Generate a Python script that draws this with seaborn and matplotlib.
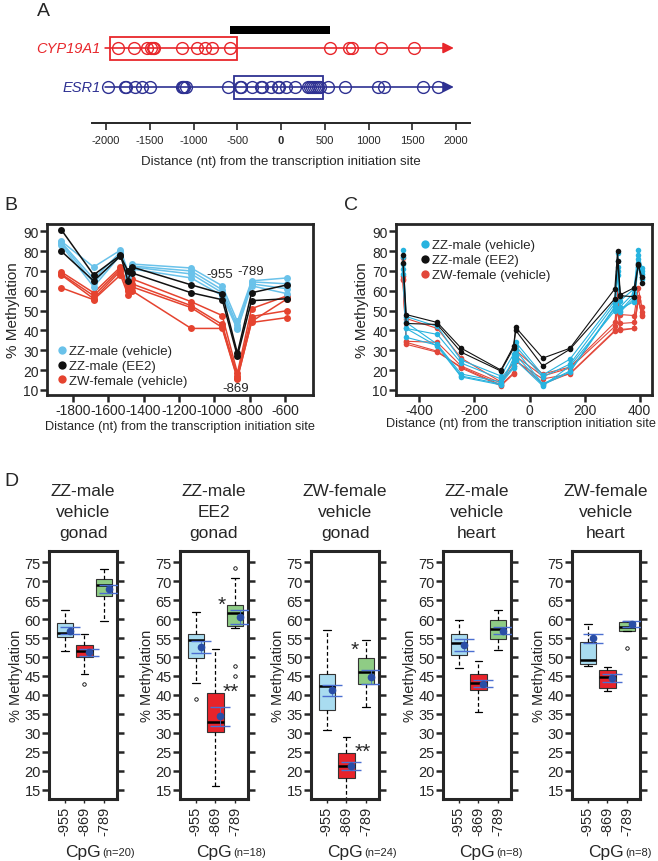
import matplotlib
matplotlib.use("Agg")
import matplotlib.pyplot as plt
from matplotlib.lines import Line2D
from matplotlib.patches import Rectangle
import seaborn as sns
import pandas as pd
import numpy as np

W, H = 658, 862

sns.set_style("ticks")
plt.rcParams["font.family"] = ["Liberation Sans", "DejaVu Sans"]
plt.rcParams["axes.unicode_minus"] = False

# ---- panel A: CpG sites, nt from the transcription initiation site
cyp_sites = [-1866, -1683, -1531, -1489, -1466, -1451, -1131, -955, -869, -789, -586,
             563, 781, 811, 1143, 1523]
esr_sites = [-1974, -1783, -1771, -1669, -1585, -1497, -1135, -1120, -1105, -1089,
             -602, -469, -454, -328, -229, -214, -114, -38, -19, 57, 160,
             309, 330, 354, 376, 400, 423, 446, 541, 735, 1105, 1181, 1619, 1791]
cyp_region = (-1955, -503)
esr_region = (-533, 483)
probe_bar = (-580, 560)
a_ticks = [-2000, -1500, -1000, -500, 0, 500, 1000, 1500, 2000]

# ---- panel B: CYP19A1 methylation per CpG, one list per animal
b_pos = [-1866, -1683, -1531, -1489, -1466, -1131, -955, -869, -789, -586]
b_zz_vehicle = [
    [85.0, 72.0, 80.5, 70.0, 73.5, 71.5, 62.5, 44.5, 65.0, 66.5],
    [84.5, 66.0, 79.5, 69.0, 72.5, 70.0, 60.5, 42.5, 64.5, 63.5],
    [84.0, 64.0, 78.5, 68.0, 72.0, 68.5, 59.0, 41.0, 63.5, 61.0],
    [83.0, 62.0, 78.0, 67.0, 71.0, 66.5, 57.5, 40.5, 62.5, 58.5],
]
b_zz_ee2 = [
    [90.8, 68.0, 78.0, 65.0, 72.0, 63.0, 58.5, 28.5, 59.0, 63.0],
    [80.0, 65.0, 77.5, 70.0, 69.0, 59.0, 55.5, 27.0, 55.0, 56.0],
]
b_zw_vehicle = [
    [69.5, 59.0, 72.0, 63.0, 66.0, 54.5, 47.5, 18.5, 51.0, 57.5],
    [68.5, 57.5, 71.0, 61.0, 63.5, 52.5, 43.0, 17.0, 47.0, 50.0],
    [68.0, 56.0, 70.0, 60.0, 62.0, 51.5, 41.5, 16.0, 44.0, 46.5],
    [61.5, 55.5, 68.0, 58.0, 60.0, 41.0, 41.0, 15.5, 44.5, 56.0],
]

# ---- panel C: ESR1 methylation per CpG
c_pos = [-460, -448, -335, -248, -104, -58, -50, 48, 147, 310, 320, 330, 380, 395, 408]
c_zz_vehicle = [
    [80.5, 47.0, 42.0, 25.0, 17.0, 28.0, 34.0, 17.5, 25.5, 55.0, 79.0, 55.0, 61.0, 80.5, 71.5],
    [77.0, 41.0, 38.0, 23.5, 15.5, 24.0, 32.0, 16.5, 23.0, 53.5, 75.0, 52.0, 59.0, 78.0, 70.0],
    [73.5, 44.0, 33.0, 18.0, 14.0, 22.0, 30.0, 13.0, 19.5, 52.0, 72.0, 50.0, 57.5, 76.0, 68.5],
    [71.0, 36.5, 32.5, 17.0, 13.0, 21.0, 27.5, 12.5, 19.0, 51.5, 70.0, 49.5, 56.0, 74.0, 67.0],
    [68.5, 41.0, 32.0, 16.5, 12.5, 26.0, 25.0, 12.0, 22.0, 50.0, 68.0, 51.0, 54.5, 72.0, 66.0],
]
c_zz_ee2 = [
    [78.0, 48.0, 44.0, 31.0, 20.0, 32.0, 41.5, 26.0, 31.0, 61.0, 80.0, 58.0, 61.5, 73.0, 67.0],
    [74.0, 43.5, 43.0, 29.0, 19.5, 31.0, 40.0, 22.0, 30.5, 56.0, 75.0, 57.5, 57.0, 73.5, 64.0],
]
c_zw_vehicle = [
    [76.5, 46.0, 41.0, 26.0, 14.0, 24.0, 30.0, 18.0, 21.5, 44.0, 59.0, 48.0, 47.5, 61.5, 52.0],
    [67.5, 34.5, 34.0, 22.0, 13.5, 22.0, 27.0, 17.0, 21.0, 42.0, 56.0, 43.5, 44.0, 57.0, 49.5],
    [66.0, 33.0, 29.0, 21.5, 12.5, 18.5, 24.5, 15.5, 18.0, 39.5, 52.0, 40.0, 41.0, 55.0, 48.0],
    [65.5, 34.0, 29.5, 21.0, 12.0, 18.0, 25.0, 13.0, 18.3, 40.0, 50.0, 40.5, 41.0, 55.5, 47.5],
]
group_labels = ["ZZ-male (vehicle)", "ZZ-male (EE2)", "ZW-female (vehicle)"]

# ---- panel D: box summaries for CpG -955, -869, -789
d_titles = ["ZZ-male\nvehicle\ngonad", "ZZ-male\nEE2\ngonad", "ZW-female\nvehicle\ngonad",
            "ZZ-male\nvehicle\nheart", "ZW-female\nvehicle\nheart"]
d_n = [20, 18, 24, 8, 8]
cpg_labels = ["-955", "-869", "-789"]
box_q1 = [[55.3, 50.1, 66.2], [49.8, 30.1, 58.2], [36.1, 18.1, 43.0], [50.5, 41.3, 54.8], [48.1, 41.7, 56.8]]
box_med = [[56.3, 51.6, 69.0], [54.6, 32.9, 61.7], [42.4, 21.1, 46.1], [53.6, 43.2, 57.5], [49.2, 44.8, 58.0]]
box_q3 = [[59.0, 53.3, 70.7], [56.0, 40.6, 63.7], [45.4, 24.6, 49.8], [56.0, 45.6, 59.9], [54.0, 46.5, 59.3]]
whis_lo = [[51.6, 45.6, 59.6], [43.2, 16.0, 57.7], [30.8, 12.6, 36.9], [47.2, 35.4, 51.8], [47.5, 40.9, 56.8]]
whis_hi = [[62.4, 56.0, 73.3], [62.0, 52.0, 70.9], [57.1, 28.8, 54.6], [59.7, 49.0, 62.4], [58.6, 47.4, 59.5]]
fliers = [[[], [43.0], []], [[39.0], [], [73.5, 47.6, 45.0]], [[], [], []],
          [[], [], []], [[], [], [52.5]]]
means = [[57.0, 51.2, 68.0], [52.6, 34.3, 60.5], [41.2, 21.2, 44.7], [53.2, 43.0, 57.0], [55.0, 44.5, 58.7]]
ses = [[0.9, 0.9, 1.0], [1.5, 2.4, 1.8], [1.4, 1.0, 1.9], [1.5, 1.0, 1.0], [1.2, 1.0, 0.7]]
stars = [[], [("*", 1.3, 64.0), ("**", 1.75, 41.0)], [("*", 1.4, 52.0), ("**", 1.85, 25.0)], [], []]
box_colors = ["#a9dcf0", "#e8232a", "#8fcc85"]

RED_A, BLUE_A = "#e8262b", "#2e3192"
B_COLORS = ["#6ac2ea", "#111111", "#e5432f"]
C_COLORS = ["#27b3df", "#111111", "#e2473a"]
XLABEL = "Distance (nt) from the transcription initiation site"


def rect(l, t, r, b):
    return [l / W, 1 - b / H, (r - l) / W, (b - t) / H]


fig = plt.figure(figsize=(W / 100, H / 100), dpi=100)

# ================= A
axA = fig.add_axes(rect(92, 0, 470, 124))
axA.set_xlim(-2160, 2160)
axA.set_ylim(124, 0)
for s in ["top", "left", "right"]:
    axA.spines[s].set_visible(False)
axA.spines["bottom"].set_linewidth(1.4)
axA.set_yticks([])
axA.set_xticks(a_ticks)
axA.set_xticklabels([str(t) for t in a_ticks], fontsize=8)
for lab in axA.get_xticklabels():
    if lab.get_text() == "0":
        lab.set_fontweight("bold")
axA.tick_params(axis="x", direction="out", length=5, width=1.2, pad=4)
axA.set_xlabel(XLABEL, fontsize=9.5, labelpad=7)
axA.patch.set_alpha(0)

axA.add_patch(Rectangle((probe_bar[0], 27), probe_bar[1] - probe_bar[0], 8, color="black", lw=0))
for sites, yrow, col, reg, rh, name in [(cyp_sites, 49, RED_A, cyp_region, 23, "CYP19A1"),
                                         (esr_sites, 88, BLUE_A, esr_region, 23, "ESR1")]:
    axA.annotate("", xy=(1975, yrow), xytext=(-2010, yrow),
                 arrowprops=dict(arrowstyle="-|>", color=col, lw=1.2, mutation_scale=16,
                                 shrinkA=0, shrinkB=0))
    axA.plot(sites, [yrow] * len(sites), "o", mfc="none", mec=col, ms=8.5, mew=1.0)
    axA.add_patch(Rectangle((reg[0], yrow - rh / 2), reg[1] - reg[0], rh, fill=False,
                            ec=col, lw=1.3))
    axA.text(-2060, yrow, name, color=col, fontsize=10.5, style="italic", ha="right", va="center")

fig.text(37 / W, 1 - 11 / H, "A", fontsize=14, va="center", ha="left")
fig.text(4 / W, 1 - 206 / H, "B", fontsize=14, va="center", ha="left")
fig.text(344 / W, 1 - 206 / H, "C", fontsize=14, va="center", ha="left")
fig.text(4 / W, 1 - 482 / H, "D", fontsize=14, va="center", ha="left")


def long_frame(pos, groups):
    rows = []
    for g, samples in groups:
        for i, vals in enumerate(samples):
            for p, v in zip(pos, vals):
                rows.append({"pos": p, "val": v, "group": g, "sample": f"{g}-{i}"})
    return pd.DataFrame(rows)


def methyl_panel(ax, pos, groups, colors, ms, lw):
    df = long_frame(pos, groups)
    for g, c in [(group_labels[2], colors[2]), (group_labels[0], colors[0]),
                 (group_labels[1], colors[1])]:
        sns.lineplot(data=df[df["group"] == g], x="pos", y="val", units="sample",
                     estimator=None, color=c, marker="o", markersize=ms,
                     markeredgewidth=0, linewidth=lw, legend=False, ax=ax)
    ax.set_ylim(7.4, 93.7)
    ax.set_yticks(range(10, 91, 10))
    ax.set_ylabel("% Methylation", fontsize=11, labelpad=2)
    ax.set_xlabel(XLABEL, fontsize=9.2, labelpad=2)
    for s in ax.spines.values():
        s.set_linewidth(2.0)
    ax.tick_params(direction="out", length=5, width=1.8, labelsize=10, pad=1)
    handles = [Line2D([], [], marker="o", ls="none", color=c, ms=6, mew=0) for c in colors]
    return handles


axB = fig.add_axes(rect(47, 225, 313, 396))
hB = methyl_panel(axB, b_pos, [(group_labels[0], b_zz_vehicle), (group_labels[1], b_zz_ee2),
                               (group_labels[2], b_zw_vehicle)], B_COLORS, 5, 1.1)
axB.set_xlim(-1947, -441)
axB.set_xticks(range(-1800, -599, 200))
axB.legend(hB, group_labels, loc="lower left", frameon=False, fontsize=9.5, handletextpad=0.1,
           labelspacing=0.2, borderaxespad=0.3, borderpad=0.3, handlelength=1.0)
axB.text(-971, 68.4, "-955", fontsize=9.5, ha="center", va="center")
axB.text(-795, 70.1, "-789", fontsize=9.5, ha="center", va="center")
axB.text(-880, 11.0, "-869", fontsize=9.5, ha="center", va="center")

axC = fig.add_axes(rect(396, 225, 652, 396))
hC = methyl_panel(axC, c_pos, [(group_labels[0], c_zz_vehicle), (group_labels[1], c_zz_ee2),
                               (group_labels[2], c_zw_vehicle)], C_COLORS, 4, 0.8)
axC.set_xlim(-485, 445)
axC.set_xticks(range(-400, 401, 200))
# keep the long x label inside the figure, as in the reference
axC.xaxis.set_label_coords((521 - 396) / 256, -0.13)
axC.legend(hC, group_labels, loc="upper left", frameon=False, fontsize=9.5, handletextpad=0.1,
           labelspacing=0.2, borderaxespad=0.3, borderpad=0.2, handlelength=1.0,
           bbox_to_anchor=(0.06, 0.95))

# ================= D
d_lefts = [49, 180, 311, 443, 572]
for i, left in enumerate(d_lefts):
    ax = fig.add_axes(rect(left, 552, left + 68, 800))
    stats = [dict(med=box_med[i][k], q1=box_q1[i][k], q3=box_q3[i][k],
                  whislo=whis_lo[i][k], whishi=whis_hi[i][k], fliers=fliers[i][k])
             for k in range(3)]
    bp = ax.bxp(stats, positions=[0, 1, 2], widths=0.82, patch_artist=True, showfliers=True,
                boxprops=dict(edgecolor="#333333", linewidth=0.8),
                medianprops=dict(color="black", linewidth=1.8),
                whiskerprops=dict(color="black", linestyle=(0, (3, 2)), linewidth=0.9),
                capprops=dict(color="black", linewidth=0.9), capwidths=0.4,
                flierprops=dict(marker="o", markersize=2.5, markerfacecolor="none",
                                markeredgecolor="black", markeredgewidth=0.6))
    for patch, c in zip(bp["boxes"], box_colors):
        patch.set_facecolor(c)
    ax.errorbar(np.arange(3) + 0.25, means[i], yerr=ses[i], fmt="o", color="#2a4ea6", ms=4.5,
                ecolor="#4b6fd1", elinewidth=0.6, capsize=7, capthick=1.0, zorder=5)
    for txt, x, y in stars[i]:
        ax.text(x, y, txt, fontsize=15, ha="center", va="center")
    ax.set_xlim(-0.8, 2.65)
    ax.set_ylim(12.5, 78)
    ax.set_yticks(range(15, 76, 5))
    ax.set_xticks([0, 1, 2])
    ax.set_xticklabels(cpg_labels, rotation=90, fontsize=10.5)
    ax.tick_params(axis="y", right=True, direction="out", length=5, width=1.8, labelsize=10.5, pad=1)
    ax.tick_params(axis="x", direction="out", length=3, width=1.0, pad=2)
    for s in ax.spines.values():
        s.set_linewidth(2.2)
    ax.set_ylabel("% Methylation", fontsize=10.5, labelpad=1)
    ax.set_title(d_titles[i], fontsize=12.5, linespacing=1.5, pad=10)
    cx = left + 34
    fig.text((cx + 18) / W, 1 - 853 / H, "CpG", fontsize=12.5, ha="right", va="center")
    fig.text((cx + 19) / W, 1 - 853 / H, f"(n={d_n[i]})", fontsize=8, ha="left", va="center")

fig.savefig("out.png", dpi=100)
